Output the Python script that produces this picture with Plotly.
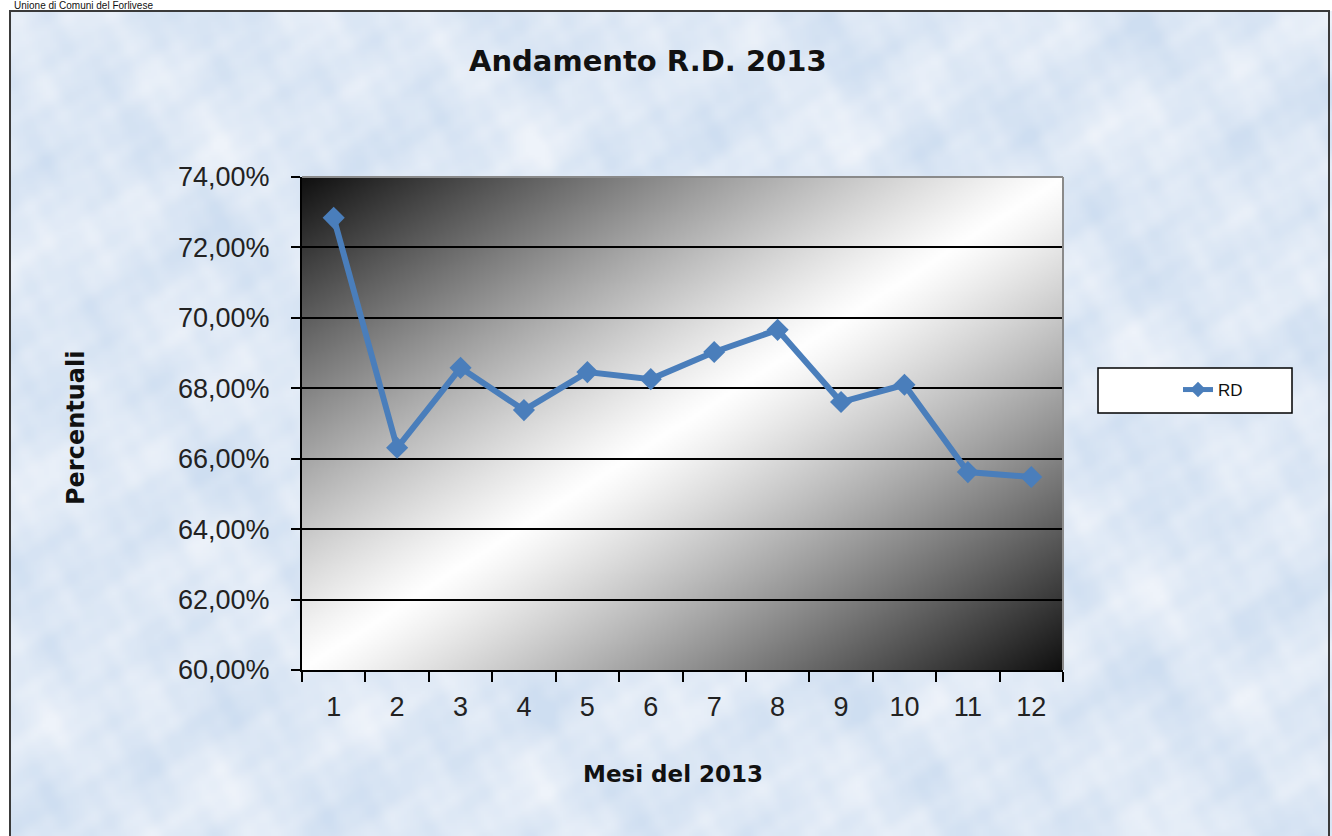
import base64
import struct
import zlib

import numpy as np
import plotly.graph_objects as go

# ---------------- data ----------------
months = [str(m) for m in range(1, 13)]
rd_percent = [72.84, 66.31, 68.58, 67.38, 68.46, 68.26, 69.03, 69.66, 67.61, 68.10, 65.62, 65.48]
series_name = "RD"
title_text = "Andamento R.D. 2013"
y_title = "Percentuali"
x_title = "Mesi del 2013"
header_text = "Unione di Comuni del Forlivese"
y_tick_values = [0.60, 0.62, 0.64, 0.66, 0.68, 0.70, 0.72, 0.74]

# ---------------- geometry (pixels) ----------------
W, H = 1332, 836
PL, PR, PT, PB = 302, 1063, 177, 670  # plot area edges
pw, ph = PR - PL, PB - PT


def px(x):
    return (x - PL) / pw


def py(y):
    return (PB - y) / ph


def png_uri(arr):
    """arr: HxWx3 uint8 -> data uri PNG"""
    h, w, _ = arr.shape
    raw = b"".join(b"\x00" + arr[i].tobytes() for i in range(h))

    def chunk(tag, data):
        c = struct.pack(">I", len(data)) + tag + data
        return c + struct.pack(">I", zlib.crc32(tag + data) & 0xFFFFFFFF)

    png = b"\x89PNG\r\n\x1a\n"
    png += chunk(b"IHDR", struct.pack(">IIBBBBB", w, h, 8, 2, 0, 0, 0))
    png += chunk(b"IDAT", zlib.compress(raw, 9))
    png += chunk(b"IEND", b"")
    return "data:image/png;base64," + base64.b64encode(png).decode()


# diagonal gradient for plot area: dark corners top-left / bottom-right, white band
gw, gh = 380, 250
u = np.linspace(0, 1, gw)[None, :]
v = np.linspace(0, 1, gh)[:, None]
t = (u + v) / 2
b = 1 - np.abs(2 * t - 1) ** 1.15
g = (16 + 239 * np.clip(b, 0, 1)).astype(np.uint8)
grad = np.stack([g, g, g], axis=-1)
grad_uri = png_uri(grad)

# soft mottled light-blue paper texture (deterministic blob pattern)
tw, th = 444, 279
X = np.arange(tw)[None, :].astype(float)
Y = np.arange(th)[:, None].astype(float)
pat = (
    np.sin(X * 0.061 + 0.3) * np.sin(Y * 0.083 + 1.1)
    + np.sin(X * 0.097 + Y * 0.031 + 1.7) * np.sin(Y * 0.121 - X * 0.027 + 0.4)
    + 0.8 * np.sin(X * 0.173 + 2.1) * np.sin(Y * 0.149 + 0.7)
    + 0.6 * np.sin(X * 0.271 + Y * 0.113 + 0.9) * np.sin(Y * 0.237 - X * 0.089 + 2.2)
    + 0.45 * np.sin(X * 0.433 + 1.3) * np.sin(Y * 0.389 + 2.6)
    + 0.35 * np.sin(X * 0.617 + Y * 0.211) * np.sin(Y * 0.571 - X * 0.157 + 1.9)
)
pat = (pat - pat.min()) / (pat.max() - pat.min())
pat = np.clip((pat - 0.5) * 1.3 + 0.5, 0, 1)
dark = np.array([206, 222, 241], float)
light = np.array([238, 243, 250], float)
tex = (dark[None, None, :] + (light - dark)[None, None, :] * pat[..., None]).astype(np.uint8)
tex_uri = png_uri(tex)

blue_line = "#4a7ebb"

fig = go.Figure()
fig.add_trace(
    go.Scatter(
        x=months,
        y=[v_ / 100 for v_ in rd_percent],
        mode="lines+markers",
        name=series_name,
        line=dict(color=blue_line, width=6),
        marker=dict(symbol="diamond", size=17, color=blue_line),
    )
)

tick_font = dict(family="Liberation Sans, Arial, sans-serif", size=27, color="#222222")
bold_font = "DejaVu Sans, Verdana, sans-serif"

fig.update_layout(
    width=W,
    height=H,
    margin=dict(l=PL, r=W - PR, t=PT, b=H - PB, pad=0),
    paper_bgcolor="#dae6f4",
    plot_bgcolor="white",
    separators=",.",
    showlegend=True,
    legend=dict(
        x=px(1178),
        y=py(390),
        xanchor="left",
        yanchor="middle",
        bgcolor="rgba(0,0,0,0)",
        borderwidth=0,
        itemsizing="constant",
        font=dict(family="Liberation Sans, Arial, sans-serif", size=17, color="#111111"),
    ),
    xaxis=dict(
        type="category",
        range=[-0.5, len(months) - 0.5],
        tickson="boundaries",
        ticks="outside",
        ticklen=10,
        tickwidth=2,
        tickcolor="black",
        showline=True,
        linecolor="black",
        linewidth=2,
        showgrid=False,
        tickfont=tick_font,
        ticklabelstandoff=12,
    ),
    yaxis=dict(
        range=[0.60, 0.74],
        tickvals=y_tick_values,
        tickformat=".2%",
        ticks="outside",
        ticklen=9,
        tickwidth=2,
        tickcolor="black",
        showline=True,
        linecolor="black",
        linewidth=2,
        showgrid=True,
        gridcolor="black",
        gridwidth=2,
        zeroline=False,
        tickfont=tick_font,
        ticklabelstandoff=16,
    ),
    images=[
        dict(
            source=tex_uri,
            xref="paper",
            yref="paper",
            x=px(0),
            y=py(0),
            sizex=W / pw,
            sizey=H / ph,
            xanchor="left",
            yanchor="top",
            sizing="stretch",
            layer="below",
        ),
        dict(
            source=grad_uri,
            xref="paper",
            yref="paper",
            x=0,
            y=1,
            sizex=1,
            sizey=1,
            xanchor="left",
            yanchor="top",
            sizing="stretch",
            layer="below",
        ),
    ],
)

shapes = [
    # white page strips outside the chart frame
    dict(type="rect", xref="paper", yref="paper", x0=px(-5), x1=px(W + 5), y0=py(11), y1=py(-5),
         fillcolor="white", line=dict(width=0), layer="below"),
    dict(type="rect", xref="paper", yref="paper", x0=px(-5), x1=px(10), y0=py(H + 5), y1=py(-5),
         fillcolor="white", line=dict(width=0), layer="below"),
    # chart frame
    dict(type="rect", xref="paper", yref="paper", x0=px(10), x1=px(1329), y0=py(H + 20), y1=py(11),
         line=dict(color="#3a3a3a", width=2), fillcolor="rgba(0,0,0,0)", layer="below"),
    # plot area top/right border
    dict(type="line", xref="paper", yref="paper", x0=0, x1=1, y0=1, y1=1,
         line=dict(color="#8a8a8a", width=2), layer="above"),
    dict(type="line", xref="paper", yref="paper", x0=1, x1=1, y0=0, y1=1,
         line=dict(color="#8a8a8a", width=2), layer="above"),
    # legend box
    dict(type="rect", xref="paper", yref="paper", x0=px(1098), x1=px(1292), y0=py(413), y1=py(368),
         fillcolor="white", line=dict(color="black", width=1.5), layer="below"),
]
fig.update_layout(shapes=shapes)

fig.add_annotation(
    text=title_text, xref="paper", yref="paper", x=px(648), y=py(61),
    xanchor="center", yanchor="middle", showarrow=False,
    font=dict(family=bold_font, size=29, color="#111111", weight="bold"),
)
fig.add_annotation(
    text=y_title, xref="paper", yref="paper", x=px(76), y=py(428),
    xanchor="center", yanchor="middle", showarrow=False, textangle=-90,
    font=dict(family=bold_font, size=24, color="#111111", weight="bold"),
)
fig.add_annotation(
    text=x_title, xref="paper", yref="paper", x=px(673), y=py(774),
    xanchor="center", yanchor="middle", showarrow=False,
    font=dict(family=bold_font, size=23, color="#111111", weight="bold"),
)
fig.add_annotation(
    text=header_text, xref="paper", yref="paper", x=px(12), y=py(5),
    xanchor="left", yanchor="middle", showarrow=False,
    font=dict(family="Liberation Sans, Arial, sans-serif", size=10, color="#111111"),
)

fig.write_html(
    "out.html",
    config={"displayModeBar": False},
    post_script="document.body.style.margin='0';",
)
